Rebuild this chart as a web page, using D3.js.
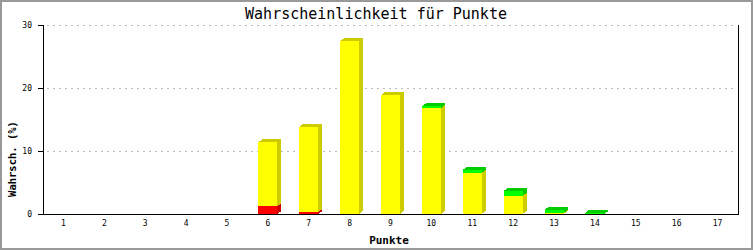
<!DOCTYPE html>
<html>
<head>
<meta charset="utf-8">
<script src="https://cdn.jsdelivr.net/npm/d3@7"></script>
<style>
  body { margin: 0; background: #fff; }
  text { font-family: "DejaVu Sans Mono", monospace; }
</style>
</head>
<body>
<script>
    // chart values
    var categories = ["1","2","3","4","5","6","7","8","9","10","11","12","13","14","15","16","17"];
    var redVals    = [0,0,0,0,0,1.25,0.3,0,0,0,0,0,0,0,0,0,0];
    var yellowVals = [0,0,0,0,0,10.15,13.55,27.45,18.9,16.8,6.5,2.9,0.15,0,0,0,0];
    var greenVals  = [0,0,0,0,0,0,0,0,0,0.3,0.5,0.75,0.5,0.2,0,0,0];
    var yTicks = [0, 10, 20, 30];

    var w = 753;
    var h = 250;

    var svg = d3.select("body")
                .append("svg")
                .attr("width", w)
                .attr("height", h);

    // outer frame
    svg.append("rect")
       .attr("x", 1).attr("y", 1)
       .attr("width", w - 2).attr("height", h - 2)
       .attr("fill", "#fff")
       .attr("stroke", "#999")
       .attr("stroke-width", 2);

    var pLeft = 43, pRight = 738, pTop = 25, pBottom = 214;

    var x = d3.scaleBand()
              .domain(categories)
              .range([pLeft, pRight])
              .paddingInner(0.535)
              .paddingOuter(0.2675);

    var y = d3.scaleLinear()
              .domain([0, 30])
              .range([pBottom, pTop]);

    // grid lines
    svg.selectAll(".grid")
       .data(yTicks.filter(d => d > 0))
       .enter()
       .append("line")
       .attr("x1", pLeft + 4).attr("x2", pRight - 2)
       .attr("y1", d => y(d) + 0.5).attr("y2", d => y(d) + 0.5)
       .attr("stroke", "#bbb")
       .attr("stroke-dasharray", "2,4");

    // stacked segments
    var series = [
        { vals: redVals,    front: "#ff0000", dark: "#cc0000" },
        { vals: yellowVals, front: "#ffff00", dark: "#cccc00" },
        { vals: greenVals,  front: "#00ff00", dark: "#00cc00" }
    ];
    var dx = 4, dy = 3;
    var base = categories.map(() => 0);
    var segs = [];
    series.forEach(function(s) {
        s.vals.forEach(function(v, i) {
            if (v > 0) {
                segs.push({ cat: categories[i], y0: base[i], y1: base[i] + v, s: s });
                base[i] += v;
            }
        });
    });

    var g = svg.append("g").attr("shape-rendering", "crispEdges");
    segs.forEach(function(d) {
        var x0 = x(d.cat), x1 = x0 + x.bandwidth();
        var yb = y(d.y0), yt = y(d.y1);
        // side face
        g.append("polygon")
         .attr("points", [[x1, yb], [x1 + dx, yb - dy], [x1 + dx, yt - dy], [x1, yt]].join(" "))
         .attr("fill", d.s.dark);
        // top face
        g.append("polygon")
         .attr("points", [[x0, yt], [x0 + dx, yt - dy], [x1 + dx, yt - dy], [x1, yt]].join(" "))
         .attr("fill", d.s.dark);
        // front face
        g.append("rect")
         .attr("x", x0).attr("y", yt)
         .attr("width", x.bandwidth()).attr("height", yb - yt)
         .attr("fill", d.s.front);
    });

    // axis lines
    svg.append("line")
       .attr("x1", pLeft + 0.5).attr("x2", pLeft + 0.5)
       .attr("y1", pTop).attr("y2", pBottom + 1)
       .attr("stroke", "#000");
    svg.append("line")
       .attr("x1", pRight + 0.5).attr("x2", pRight + 0.5)
       .attr("y1", pTop).attr("y2", pBottom + 1)
       .attr("stroke", "#000");
    svg.append("line")
       .attr("x1", pLeft).attr("x2", pRight + 1)
       .attr("y1", pBottom + 0.5).attr("y2", pBottom + 0.5)
       .attr("stroke", "#000");

    // y ticks
    svg.selectAll(".ytick")
       .data(yTicks)
       .enter()
       .append("line")
       .attr("x1", pLeft - 5).attr("x2", pLeft)
       .attr("y1", d => y(d) + 0.5).attr("y2", d => y(d) + 0.5)
       .attr("stroke", "#000");
    svg.selectAll(".ylab")
       .data(yTicks)
       .enter()
       .append("text")
       .attr("x", pLeft - 11)
       .attr("y", d => y(d) + 3)
       .attr("text-anchor", "end")
       .attr("font-size", 8)
       .text(d => d);

    // x labels
    svg.selectAll(".xlab")
       .data(categories)
       .enter()
       .append("text")
       .attr("x", d => x(d) + x.bandwidth() / 2)
       .attr("y", 226)
       .attr("text-anchor", "middle")
       .attr("font-size", 8)
       .text(d => d);

    // titles
    svg.append("text")
       .attr("x", 376).attr("y", 19)
       .attr("text-anchor", "middle")
       .attr("font-size", 15)
       .text("Wahrscheinlichkeit für Punkte");
    svg.append("text")
       .attr("x", 389).attr("y", 244)
       .attr("text-anchor", "middle")
       .attr("font-size", 11)
       .attr("font-weight", "bold")
       .text("Punkte");
    svg.append("text")
       .attr("transform", "translate(16,159) rotate(-90)")
       .attr("text-anchor", "middle")
       .attr("font-size", 10.5)
       .attr("font-weight", "bold")
       .text("Wahrsch. (%)");
</script>
</body>
</html>
